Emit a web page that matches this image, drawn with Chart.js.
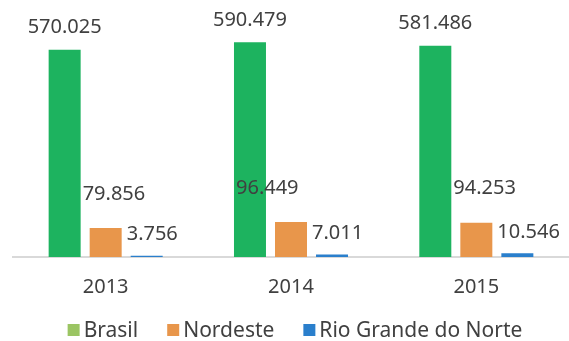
<!DOCTYPE html>
<html>
<head>
<meta charset="utf-8">
<script src="https://cdn.jsdelivr.net/npm/chart.js@4/dist/chart.umd.min.js"></script>
<style>
    html, body { margin: 0; padding: 0; background: #fff; }
    #wrap { width: 569px; height: 341px; }
</style>
</head>
<body>
<div id="wrap"><canvas id="chart" width="569" height="341"></canvas></div>
<script>
const years = ['2013', '2014', '2015'];
const brasil = [570025, 590479, 581486];
const nordeste = [79856, 96449, 94253];
const rioGrandeNorte = [3756, 7011, 10546];

const textColor = '#404040';
const fontFamily = '"Noto Sans", "DejaVu Sans", sans-serif';
const fmt = new Intl.NumberFormat('pt-BR');

// value labels, placed per series like the hand-arranged ones in the original sheet
const valueLabels = {
    id: 'valueLabels',
    afterDatasetsDraw(chart, args, opts) {
        const ctx = chart.ctx;
        ctx.save();
        ctx.font = '20px ' + fontFamily;
        ctx.fillStyle = textColor;
        ctx.textBaseline = 'middle';
        chart.data.datasets.forEach((ds, i) => {
            const meta = chart.getDatasetMeta(i);
            const place = opts.place[i];
            meta.data.forEach((bar, j) => {
                const shift = (place.shift && place.shift[j]) || 0;
                ctx.textAlign = place.align;
                const x = place.align === 'center' ? bar.x : bar.x - bar.width / 2 + place.dx + shift;
                ctx.fillText(fmt.format(ds.data[j]), x, bar.y + place.dy);
            });
        });
        ctx.restore();
    }
};

// legend row under the axis: small square, tight gap, wide gap between entries
const bottomLegend = {
    id: 'bottomLegend',
    afterDraw(chart, args, opts) {
        const ctx = chart.ctx;
        ctx.save();
        ctx.font = opts.size + 'px ' + fontFamily;
        ctx.textBaseline = 'middle';
        ctx.textAlign = 'left';
        const items = chart.data.datasets.map(ds => ({
            text: ds.label,
            color: ds.legendColor,
            w: opts.box + opts.textGap + ctx.measureText(ds.label).width
        }));
        const total = items.reduce((s, it) => s + it.w, 0) + opts.itemGap * (items.length - 1);
        const area = chart.chartArea;
        let x = (area.left + area.right) / 2 - total / 2 + opts.offsetX;
        const y = opts.y;
        items.forEach(it => {
            ctx.fillStyle = it.color;
            ctx.fillRect(x, y - opts.box / 2, opts.box, opts.box);
            ctx.fillStyle = textColor;
            ctx.fillText(it.text, x + opts.box + opts.textGap, y + 1);
            x += it.w + opts.itemGap;
        });
        ctx.restore();
    }
};

new Chart(document.getElementById('chart'), {
    type: 'bar',
    data: {
        labels: years,
        datasets: [
            { label: 'Brasil', data: brasil, backgroundColor: '#1db35f', legendColor: '#9bc563' },
            { label: 'Nordeste', data: nordeste, backgroundColor: '#e8964b', legendColor: '#e8964b' },
            { label: 'Rio Grande do Norte', data: rioGrandeNorte, backgroundColor: '#2a7fcc', legendColor: '#2a7fcc' }
        ]
    },
    options: {
        responsive: false,
        animation: false,
        layout: { padding: { left: 13, right: 0, top: 0, bottom: 24 } },
        datasets: {
            bar: { categoryPercentage: 0.664, barPercentage: 0.78 }
        },
        plugins: {
            tooltip: { enabled: false },
            legend: { display: false },
            bottomLegend: { y: 330, size: 21, box: 12, textGap: 4, itemGap: 29, offsetX: 4 },
            valueLabels: {
                place: [
                    { align: 'center', dx: 0, dy: -22 },
                    { align: 'left', dx: -7, dy: -34, shift: [0, -32, 0] },
                    { align: 'left', dx: -4, dy: -21 }
                ]
            }
        },
        scales: {
            x: {
                grid: { display: false, drawTicks: false },
                border: { display: true, color: '#d9d9d9', width: 2 },
                ticks: {
                    padding: 18,
                    color: textColor,
                    font: { family: fontFamily, size: 20 }
                }
            },
            y: {
                display: false,
                min: 0,
                max: 707000
            }
        }
    },
    plugins: [valueLabels, bottomLegend]
});
</script>
</body>
</html>
